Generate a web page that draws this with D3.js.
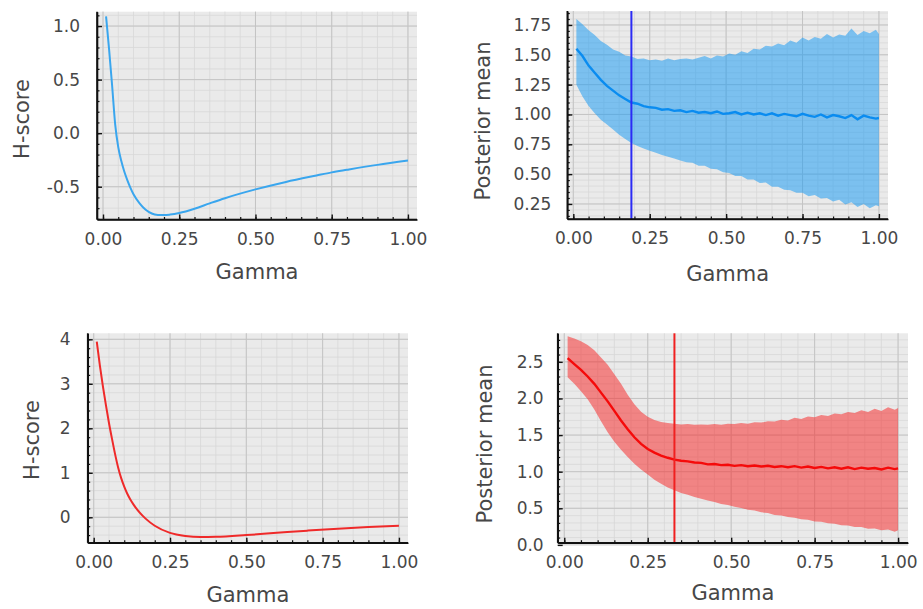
<!DOCTYPE html>
<html>
<head>
<meta charset="utf-8">
<script src="https://cdn.jsdelivr.net/npm/d3@7"></script>
<style>
  html, body { margin: 0; padding: 0; background: #ffffff; }
  svg { display: block; }
  text { font-family: "DejaVu Sans", sans-serif; fill: #474747; }
</style>
</head>
<body>
<svg id="chart" width="923" height="609"></svg>
<script>
// ---------------- data ----------------
const xTickValues = [0, 0.25, 0.5, 0.75, 1.0];

// H-score, top (blue)
const hsGammaTop = [0.01, 0.02, 0.03, 0.04, 0.05, 0.06, 0.07, 0.08, 0.09, 0.10, 0.12, 0.14, 0.16, 0.18, 0.20, 0.22, 0.25, 0.30, 0.35, 0.40, 0.50, 0.60, 0.70, 0.75, 0.80, 0.90, 1.00];
const hsTop = [1.09, 0.78, 0.44, 0.08, -0.13, -0.26, -0.36, -0.44, -0.51, -0.57, -0.655, -0.715, -0.75, -0.763, -0.765, -0.76, -0.745, -0.705, -0.655, -0.607, -0.525, -0.455, -0.395, -0.366, -0.342, -0.296, -0.256];
const hsTopTicks = [-0.5, 0.0, 0.5, 1.0];

// H-score, bottom (red)
const hsGammaBot = [0.01, 0.02, 0.03, 0.04, 0.05, 0.06, 0.07, 0.08, 0.09, 0.10, 0.11, 0.12, 0.13, 0.15, 0.17, 0.20, 0.25, 0.30, 0.35, 0.40, 0.50, 0.60, 0.70, 0.80, 0.90, 1.00];
const hsBot = [3.95, 3.42, 2.95, 2.52, 2.12, 1.76, 1.42, 1.12, 0.88, 0.69, 0.53, 0.40, 0.29, 0.11, -0.03, -0.19, -0.35, -0.42, -0.445, -0.44, -0.40, -0.35, -0.30, -0.255, -0.22, -0.19];
const hsBotTicks = [0, 1, 2, 3, 4];

// Posterior mean grid
const gammaGrid = [0.01, 0.03, 0.05, 0.07, 0.09, 0.11, 0.13, 0.15, 0.17, 0.19,
  0.21, 0.23, 0.25, 0.27, 0.29, 0.31, 0.33, 0.35, 0.37, 0.39,
  0.41, 0.43, 0.45, 0.47, 0.49, 0.51, 0.53, 0.55, 0.57, 0.59,
  0.61, 0.63, 0.65, 0.67, 0.69, 0.71, 0.73, 0.75, 0.77, 0.79,
  0.81, 0.83, 0.85, 0.87, 0.89, 0.91, 0.93, 0.95, 0.97, 0.99, 1.00];

// Posterior mean, top (blue)
const meanTop = [1.55, 1.49, 1.41, 1.35, 1.29, 1.24, 1.20, 1.16, 1.13, 1.10,
  1.09, 1.07, 1.06, 1.055, 1.04, 1.045, 1.03, 1.035, 1.02, 1.03,
  1.015, 1.02, 1.01, 1.025, 1.005, 1.01, 1.02, 1.0, 1.015, 1.0,
  1.01, 0.995, 1.01, 0.99, 1.005, 0.995, 0.985, 1.005, 0.99, 0.98,
  1.0, 0.975, 0.995, 0.985, 0.97, 0.995, 0.96, 0.99, 0.975, 0.965, 0.97];
const upperTop = [1.80, 1.755, 1.705, 1.665, 1.615, 1.585, 1.545, 1.525, 1.495, 1.485,
  1.465, 1.47, 1.455, 1.46, 1.45, 1.47, 1.455, 1.465, 1.47, 1.46,
  1.475, 1.49, 1.47, 1.495, 1.485, 1.51, 1.50, 1.53, 1.515, 1.55,
  1.545, 1.575, 1.57, 1.595, 1.58, 1.62, 1.60, 1.645, 1.62, 1.65,
  1.635, 1.675, 1.645, 1.67, 1.66, 1.72, 1.665, 1.70, 1.68, 1.71, 1.675];
const lowerTop = [1.25, 1.15, 1.07, 1.01, 0.955, 0.915, 0.875, 0.83, 0.795, 0.76,
  0.735, 0.715, 0.695, 0.68, 0.66, 0.645, 0.63, 0.615, 0.60, 0.595,
  0.57, 0.57, 0.545, 0.54, 0.515, 0.51, 0.485, 0.485, 0.455, 0.455,
  0.425, 0.43, 0.395, 0.395, 0.37, 0.365, 0.345, 0.345, 0.315, 0.325,
  0.295, 0.30, 0.27, 0.285, 0.245, 0.265, 0.225, 0.25, 0.215, 0.24, 0.23];
const pmTopTicks = [0.25, 0.5, 0.75, 1.0, 1.25, 1.5, 1.75];
const gammaStarTop = 0.19;

// Posterior mean, bottom (red)
const meanBot = [2.55, 2.47, 2.39, 2.30, 2.20, 2.08, 1.96, 1.83, 1.70, 1.58,
  1.47, 1.38, 1.31, 1.26, 1.22, 1.19, 1.165, 1.15, 1.14, 1.125,
  1.12, 1.10, 1.105, 1.09, 1.095, 1.08, 1.09, 1.075, 1.085, 1.07,
  1.08, 1.065, 1.075, 1.06, 1.075, 1.055, 1.07, 1.05, 1.065, 1.045,
  1.06, 1.04, 1.06, 1.035, 1.055, 1.04, 1.05, 1.03, 1.055, 1.035, 1.045];
const upperBot = [2.85, 2.82, 2.78, 2.73, 2.66, 2.56, 2.46, 2.33, 2.20, 2.05,
  1.92, 1.82, 1.75, 1.705, 1.68, 1.665, 1.655, 1.645, 1.65, 1.64,
  1.645, 1.64, 1.65, 1.64, 1.655, 1.65, 1.665, 1.655, 1.675, 1.67,
  1.69, 1.685, 1.71, 1.70, 1.735, 1.72, 1.755, 1.745, 1.775, 1.76,
  1.795, 1.785, 1.815, 1.80, 1.84, 1.815, 1.86, 1.83, 1.88, 1.845, 1.87];
const lowerBot = [2.29, 2.20, 2.10, 1.99, 1.85, 1.69, 1.54, 1.41, 1.30, 1.20,
  1.11, 1.03, 0.96, 0.89, 0.835, 0.785, 0.745, 0.71, 0.685, 0.655,
  0.63, 0.605, 0.585, 0.56, 0.545, 0.52, 0.505, 0.48, 0.47, 0.445,
  0.435, 0.41, 0.40, 0.38, 0.37, 0.35, 0.345, 0.32, 0.315, 0.295,
  0.29, 0.27, 0.265, 0.245, 0.245, 0.22, 0.225, 0.20, 0.21, 0.18, 0.20];
const pmBotTicks = [0.0, 0.5, 1.0, 1.5, 2.0, 2.5];
const gammaStarBot = 0.33;

// ---------------- drawing ----------------
const svg = d3.select("#chart");
const xDomain = [-0.0197, 1.0297];

function fmtFixed(n) { return d => d.toFixed(n); }

function panel(cfg) {
  const [x0, y0, x1, y1] = cfg.rect;
  const x = d3.scaleLinear().domain(xDomain).range([x0, x1]);
  const y = d3.scaleLinear().domain(cfg.yDomain).range([y1, y0]);
  const g = svg.append("g");

  g.append("rect").attr("x", x0).attr("y", y0).attr("width", x1 - x0).attr("height", y1 - y0)
    .attr("fill", "#eaeaea");

  const xMinor = d3.range(0, 1.0001, 0.05);
  const yMinor = d3.range(Math.ceil(cfg.yDomain[0] / cfg.yMinorStep) * cfg.yMinorStep, cfg.yDomain[1], cfg.yMinorStep);
  g.append("g").selectAll("line").data(xMinor).join("line")
    .attr("x1", d => x(d)).attr("x2", d => x(d)).attr("y1", y0).attr("y2", y1)
    .attr("stroke", "#d8d8d8").attr("stroke-width", 0.8);
  g.append("g").selectAll("line").data(yMinor).join("line")
    .attr("x1", x0).attr("x2", x1).attr("y1", d => y(d)).attr("y2", d => y(d))
    .attr("stroke", "#d8d8d8").attr("stroke-width", 0.8);
  g.append("g").selectAll("line").data(xTickValues).join("line")
    .attr("x1", d => x(d)).attr("x2", d => x(d)).attr("y1", y0).attr("y2", y1)
    .attr("stroke", "#c4c4c4").attr("stroke-width", 1);
  g.append("g").selectAll("line").data(cfg.yTicks).join("line")
    .attr("x1", x0).attr("x2", x1).attr("y1", d => y(d)).attr("y2", d => y(d))
    .attr("stroke", "#c4c4c4").attr("stroke-width", 1);

  cfg.draw(g, x, y);

  const ax = g.append("g");
  ax.append("g").attr("transform", `translate(${x0},0)`)
    .call(d3.axisLeft(y).tickValues(yMinor).tickSizeInner(-2.5).tickSizeOuter(0).tickFormat(""))
    .call(s => s.select(".domain").remove())
    .call(s => s.selectAll("line").attr("stroke", "#111").attr("stroke-width", 1.2));
  ax.append("g").attr("transform", `translate(0,${y1})`)
    .call(d3.axisBottom(x).tickValues(xMinor).tickSizeInner(-2.5).tickSizeOuter(0).tickFormat(""))
    .call(s => s.select(".domain").remove())
    .call(s => s.selectAll("line").attr("stroke", "#111").attr("stroke-width", 1.2));

  const ya = ax.append("g").attr("transform", `translate(${x0},0)`)
    .call(d3.axisLeft(y).tickValues(cfg.yTicks).tickSizeInner(-5).tickSizeOuter(0)
      .tickPadding(cfg.yPad).tickFormat(cfg.yFmt));
  const xa = ax.append("g").attr("transform", `translate(0,${y1})`)
    .call(d3.axisBottom(x).tickValues(xTickValues).tickSizeInner(-5).tickSizeOuter(0)
      .tickPadding(13).tickFormat(fmtFixed(2)));
  [ya, xa].forEach(a => {
    a.select(".domain").attr("stroke", "#111").attr("stroke-width", 1.6);
    a.selectAll(".tick line").attr("stroke", "#111").attr("stroke-width", 1.4);
    a.selectAll(".tick text").attr("font-family", "DejaVu Sans, sans-serif")
      .attr("font-size", 17).attr("fill", "#4a4a4a");
  });
  ax.append("line").attr("x1", x0).attr("x2", x1).attr("y1", y1).attr("y2", y1)
    .attr("stroke", "#111").attr("stroke-width", 1.6);
  ax.append("line").attr("x1", x0).attr("x2", x0).attr("y1", y0).attr("y2", y1)
    .attr("stroke", "#111").attr("stroke-width", 1.6);

  g.append("text").attr("x", (x0 + x1) / 2).attr("y", cfg.xLabelY)
    .attr("text-anchor", "middle").attr("dominant-baseline", "central")
    .attr("font-size", 21).text("Gamma");
  g.append("text").attr("transform", `translate(${cfg.yLabelPos[0]},${cfg.yLabelPos[1]}) rotate(-90)`)
    .attr("text-anchor", "middle").attr("dominant-baseline", "central")
    .attr("font-size", 21).text(cfg.yLabel);
}

function hsDraw(gammas, vals, color) {
  return (g, x, y) => {
    const pts = gammas.map((d, i) => [d, vals[i]]);
    g.append("path").datum(pts)
      .attr("fill", "none").attr("stroke", color).attr("stroke-width", 2)
      .attr("d", d3.line().x(d => x(d[0])).y(d => y(d[1])).curve(d3.curveMonotoneX));
  };
}

function pmDraw(mean, lower, upper, bandColor, lineColor, vline, vlineColor) {
  return (g, x, y) => {
    const rows = gammaGrid.map((d, i) => ({ g: d, m: mean[i], lo: lower[i], hi: upper[i] }));
    g.append("path").datum(rows)
      .attr("fill", bandColor).attr("fill-opacity", 0.55).attr("stroke", "none")
      .attr("d", d3.area().x(d => x(d.g)).y0(d => y(d.lo)).y1(d => y(d.hi)));
    g.append("path").datum(rows)
      .attr("fill", "none").attr("stroke", lineColor).attr("stroke-width", 2.4)
      .attr("d", d3.line().x(d => x(d.g)).y(d => y(d.m)));
    const [yA, yB] = y.range();
    g.append("line").attr("x1", x(vline)).attr("x2", x(vline)).attr("y1", yA).attr("y2", yB)
      .attr("stroke", vlineColor).attr("stroke-width", 2);
  };
}

panel({
  rect: [97, 11.7, 417, 219.5], yDomain: [-0.806, 1.134], yTicks: hsTopTicks, yMinorStep: 0.1,
  yFmt: fmtFixed(1), yPad: 17, xLabelY: 272, yLabelPos: [22, 119], yLabel: "H-score",
  draw: hsDraw(hsGammaTop, hsTop, "#3aa6ee")
});
panel({
  rect: [567.3, 11, 888, 219], yDomain: [0.124, 1.867], yTicks: pmTopTicks, yMinorStep: 0.05,
  yFmt: fmtFixed(2), yPad: 16, xLabelY: 274, yLabelPos: [483, 121], yLabel: "Posterior mean",
  draw: pmDraw(meanTop, lowerTop, upperTop, "#1f9cf2", "#0a8cf0", gammaStarTop, "#2b2bf5")
});
panel({
  rect: [87.7, 333.3, 408, 542.7], yDomain: [-0.571, 4.135], yTicks: hsBotTicks, yMinorStep: 0.2,
  yFmt: fmtFixed(0), yPad: 17, xLabelY: 595, yLabelPos: [32, 440], yLabel: "H-score",
  draw: hsDraw(hsGammaBot, hsBot, "#ef2a2a")
});
panel({
  rect: [557.7, 333.3, 908, 542.7], yDomain: [0.03, 2.89], yTicks: pmBotTicks, yMinorStep: 0.1,
  yFmt: fmtFixed(1), yPad: 14, xLabelY: 593, yLabelPos: [485, 444], yLabel: "Posterior mean",
  draw: pmDraw(meanBot, lowerBot, upperBot, "#f53030", "#f50a0a", gammaStarBot, "#f02020")
});
</script>
</body>
</html>
